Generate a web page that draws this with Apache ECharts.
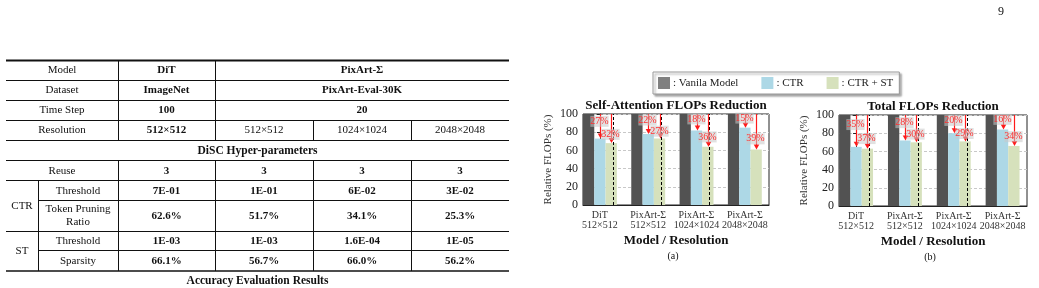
<!DOCTYPE html>
<html>
<head>
<meta charset="utf-8">
<script src="https://cdn.jsdelivr.net/npm/echarts@6/dist/echarts.min.js"></script>
<style>
  html, body { margin: 0; padding: 0; background: #fff; }
  #main { width: 1039px; height: 288px; }
</style>
</head>
<body>
<div id="main"></div>
<script>
// 图表数据
var categories = ['DiT\n512×512', 'PixArt-Σ\n512×512', 'PixArt-Σ\n1024×1024', 'PixArt-Σ\n2048×2048'];
var yTicks = [0, 20, 40, 60, 80, 100];

// (a) Self-Attention
var vanillaA = [100, 100, 100, 100];
var ctrA = [73, 78, 82, 85];
var ctrStA = [68, 73, 64, 61];
var ctrCutA = ['27%', '22%', '18%', '15%'];
var ctrStCutA = ['32%', '27%', '36%', '39%'];

// (b) Total
var vanillaB = [100, 100, 100, 100];
var ctrB = [65, 72, 80, 84];
var ctrStB = [63, 70, 71, 66];
var ctrCutB = ['35%', '28%', '20%', '16%'];
var ctrStCutB = ['37%', '30%', '29%', '34%'];

// 表格数据
var headModel = ['Model', 'DiT', 'PixArt-Σ'];
var headDataset = ['Dataset', 'ImageNet', 'PixArt-Eval-30K'];
var headStep = ['Time Step', '100', '20'];
var resolutions = ['512×512', '512×512', '1024×1024', '2048×2048'];
var reuse = ['3', '3', '3', '3'];
var ctrThreshold = ['7E-01', '1E-01', '6E-02', '3E-02'];
var ctrPruning = ['62.6%', '51.7%', '34.1%', '25.3%'];
var stThreshold = ['1E-03', '1E-03', '1.6E-04', '1E-05'];
var stSparsity = ['66.1%', '56.7%', '66.0%', '56.2%'];

var serif = '"Liberation Serif", "DejaVu Serif", serif';
var barW = 11.3;

var myChart = echarts.init(document.getElementById('main'));

// ---- 表格 (graphic) ----
var graphics = [];
function txt(s, x, y, size, bold, extra) {
    graphics.push({
        type: 'text', x: x, y: y, silent: true,
        style: Object.assign({
            text: s, font: (bold ? 'bold ' : '') + size + 'px ' + serif, fill: '#111',
            align: 'center', verticalAlign: 'middle', textAlign: 'center', textVerticalAlign: 'middle'
        }, extra || {})
    });
}
function seg(x1, y1, x2, y2, w) {
    graphics.push({ type: 'line', silent: true, shape: { x1: x1, y1: y1, x2: x2, y2: y2 }, style: { stroke: '#111', lineWidth: w || 1 } });
}

var colX = [6, 118, 215, 313, 411, 509];
var colC = [62, 166.5, 264, 362, 460];
var pixC = 362, tableC = 257.5;

txt(headModel[0], colC[0], 70.5, 11);
txt(headModel[1], colC[1], 70.5, 11, true);
txt(headModel[2], pixC, 70.5, 11, true);
txt(headDataset[0], colC[0], 90.5, 11);
txt(headDataset[1], colC[1], 90.5, 11, true);
txt(headDataset[2], pixC, 90.5, 11, true);
txt(headStep[0], colC[0], 110.5, 11);
txt(headStep[1], colC[1], 110.5, 11, true);
txt(headStep[2], pixC, 110.5, 11, true);
txt('Resolution', colC[0], 130.5, 11);
resolutions.forEach(function (s, i) { txt(s, colC[i + 1], 130.5, 11, i === 0); });
txt('DiSC Hyper-parameters', tableC, 150.8, 11.5, true);
txt('Reuse', colC[0], 171, 11);
reuse.forEach(function (s, i) { txt(s, colC[i + 1], 171, 11, true); });
txt('CTR', 22, 206, 11);
txt('Threshold', 78, 190.8, 11);
ctrThreshold.forEach(function (s, i) { txt(s, colC[i + 1], 190.8, 11, true); });
txt('Token Pruning\nRatio', 78, 215.8, 11, false, { lineHeight: 12.5 });
ctrPruning.forEach(function (s, i) { txt(s, colC[i + 1], 215.8, 11, true); });
txt('ST', 22, 251, 11);
txt('Threshold', 78, 241, 11);
stThreshold.forEach(function (s, i) { txt(s, colC[i + 1], 241, 11, true); });
txt('Sparsity', 78, 261, 11);
stSparsity.forEach(function (s, i) { txt(s, colC[i + 1], 261, 11, true); });
txt('Accuracy Evaluation Results', tableC, 281.5, 11.5, true);

// 横线
seg(colX[0], 60.5, colX[5], 60.5, 2);
[80.5, 100.5, 120.5, 140.5, 160.5, 180.5, 231.5].forEach(function (y) { seg(colX[0], y, colX[5], y, 1); });
seg(38, 200.5, colX[5], 200.5, 1);
seg(38, 250.5, colX[5], 250.5, 1);
seg(colX[0], 271, colX[5], 271, 1.6);
// 竖线
[118.5, 215.5].forEach(function (x) { seg(x, 61, x, 140.5); seg(x, 160.5, x, 271); });
[313.5, 411.5].forEach(function (x) { seg(x, 120.5, x, 140.5); seg(x, 160.5, x, 271); });
seg(38.5, 180.5, 38.5, 271);

// 图表标题等
txt('Self-Attention FLOPs Reduction', 676, 106, 13, true);
txt('Total FLOPs Reduction', 933, 107, 13, true);
txt('(a)', 673, 256.5, 10);
txt('(b)', 930, 257, 10);
txt('9', 1001, 12, 12);

// ---- 柱状图 ----
function toXY(arr) { return arr.map(function (v, i) { return [i, v]; }); }

function makeAxes(k, left, top, width, height) {
    return {
        grid: { left: left, top: top, width: width, height: height, show: true, borderColor: '#222', borderWidth: 1, backgroundColor: 'transparent' },
        xAxis: {
            type: 'value', gridIndex: k, min: -0.35, max: 3.5,
            name: 'Model / Resolution', nameLocation: 'middle', nameGap: 29,
            nameTextStyle: { fontFamily: serif, fontWeight: 'bold', fontSize: 13, color: '#111' },
            axisLine: { show: true, lineStyle: { color: '#222' } },
            axisTick: { show: false },
            splitLine: { show: false },
            axisLabel: {
                customValues: [0, 1, 2, 3],
                formatter: function (v) { return categories[Math.round(v)]; },
                fontFamily: serif, fontSize: 10, color: '#333', lineHeight: 10, margin: 5
            }
        },
        yAxis: {
            type: 'value', gridIndex: k, min: yTicks[0], max: yTicks[yTicks.length - 1], interval: yTicks[1] - yTicks[0],
            name: 'Relative FLOPs (%)', nameLocation: 'middle', nameGap: 29,
            nameTextStyle: { fontFamily: serif, fontSize: 11, color: '#333' },
            axisLine: { show: true, lineStyle: { color: '#222' } },
            axisTick: { show: true, length: 3, lineStyle: { color: '#222' } },
            axisLabel: { fontFamily: serif, fontSize: 12, color: '#222', margin: 5 },
            splitLine: { show: true, lineStyle: { type: [3, 2], color: '#c8c8c8' } }
        }
    };
}

// 红色箭头 + 百分比
function arrowSeries(k, values, labels, dx, frac) {
    return {
        type: 'custom', xAxisIndex: k, yAxisIndex: k, z: 5, clip: false, silent: true,
        data: toXY(values),
        renderItem: function (params, api) {
            var i = api.value(0), v = api.value(1);
            var top = api.coord([i, 100]);
            var end = api.coord([i, v]);
            var lab = api.coord([i, 100 - frac * (100 - v)]);
            var x = Math.round(top[0] + dx) + 0.5;
            return {
                type: 'group',
                children: [
                    { type: 'line', shape: { x1: x, y1: top[1], x2: x, y2: end[1] - 4 }, style: { stroke: '#ff1a1a', lineWidth: 1.2 } },
                    { type: 'polygon', shape: { points: [[x - 2.8, end[1] - 5], [x + 2.8, end[1] - 5], [x, end[1]]] }, style: { fill: '#ff1a1a' } },
                    {
                        type: 'text', x: x - 1, y: lab[1],
                        style: {
                            text: labels[params.dataIndex], font: '10px ' + serif, fill: '#ff3030',
                            align: 'center', verticalAlign: 'middle', textAlign: 'center', textVerticalAlign: 'middle',
                            backgroundColor: 'rgba(200,200,200,0.55)', padding: [1, 0, 0, 0]
                        }
                    }
                ]
            };
        }
    };
}

var dividers = {
    symbol: 'none', silent: true, label: { show: false },
    lineStyle: { type: [3, 2], color: '#000', width: 1 },
    data: [{ xAxis: 0.5 }, { xAxis: 1.5 }, { xAxis: 2.5 }]
};

function barSeries(k, vanilla, ctr, ctrSt, ctrCut, ctrStCut) {
    return [
        { name: 'Vanila Model', type: 'bar', xAxisIndex: k, yAxisIndex: k, data: toXY(vanilla), barWidth: barW, barGap: '0%', itemStyle: { color: '#525252' }, markLine: dividers },
        { name: 'CTR', type: 'bar', xAxisIndex: k, yAxisIndex: k, data: toXY(ctr), barWidth: barW, barGap: '0%', itemStyle: { color: '#add8e6' } },
        { name: 'CTR + ST', type: 'bar', xAxisIndex: k, yAxisIndex: k, data: toXY(ctrSt), barWidth: barW, barGap: '0%', itemStyle: { color: '#d6e1bc' } },
        arrowSeries(k, ctr, ctrCut, 0, 0.3),
        arrowSeries(k, ctrSt, ctrStCut, barW, 0.7)
    ];
}

var a = makeAxes(0, 583, 114, 186, 91);
var b = makeAxes(1, 839, 115, 188, 91);

var option = {
    animation: false,
    graphic: { elements: graphics },
    legend: {
        left: 653, top: 72, orient: 'horizontal',
        itemWidth: 12, itemHeight: 12, itemGap: 23, icon: 'rect',
        padding: [5, 6, 5, 5],
        borderColor: '#999', borderWidth: 1, backgroundColor: '#fff',
        shadowColor: 'rgba(0,0,0,0.35)', shadowBlur: 2, shadowOffsetX: 2, shadowOffsetY: 2,
        formatter: ': {name}',
        textStyle: { fontFamily: serif, fontSize: 11, color: '#222', padding: [0, 0, 0, -2] },
        data: [{ name: 'Vanila Model', itemStyle: { color: '#808080' } }, 'CTR', 'CTR + ST']
    },
    grid: [a.grid, b.grid],
    xAxis: [a.xAxis, b.xAxis],
    yAxis: [a.yAxis, b.yAxis],
    series: barSeries(0, vanillaA, ctrA, ctrStA, ctrCutA, ctrStCutA)
        .concat(barSeries(1, vanillaB, ctrB, ctrStB, ctrCutB, ctrStCutB))
};

myChart.setOption(option);
</script>
</body>
</html>
